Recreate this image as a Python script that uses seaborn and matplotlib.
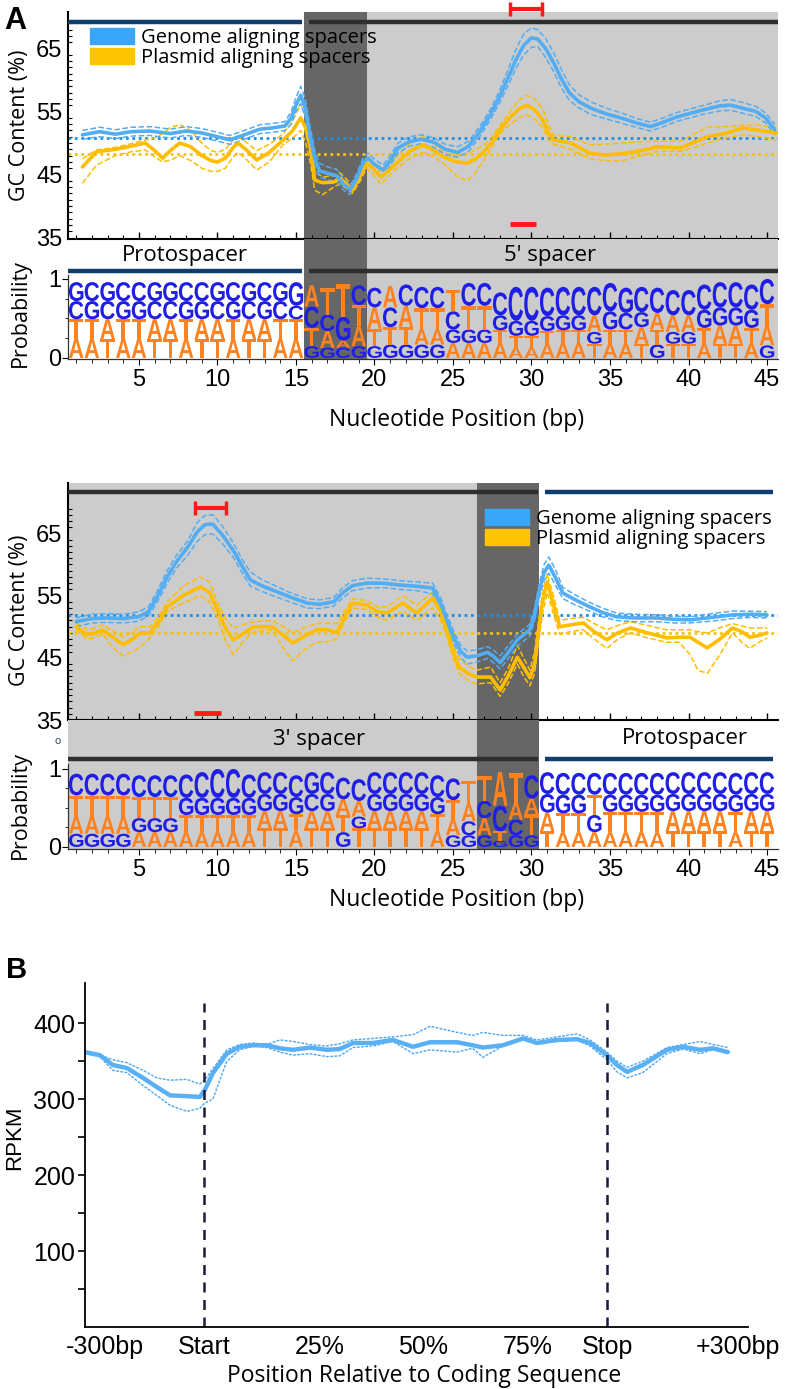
import matplotlib
matplotlib.use("Agg")
import matplotlib.pyplot as plt
import seaborn as sns
from matplotlib.textpath import TextPath
from matplotlib.font_manager import FontProperties
from matplotlib.patches import PathPatch, Patch
from matplotlib.transforms import Affine2D

# ---------------- data : panel A, 5' side ----------------
top_g_pos = [1.4, 2.5, 3.5, 4.5, 5.7, 7.0, 8.0, 9.0, 10.0, 10.8, 11.6, 12.7, 13.5, 14.3, 14.7, 15.0, 15.3,
             15.6, 15.9, 16.2, 16.5, 17.0, 17.6, 18.0, 18.45, 18.9, 19.3, 19.6, 20.0, 20.55, 21.0, 21.5,
             22.2, 23.0, 23.8, 24.5, 25.3, 26.0, 26.7, 27.4, 28.0, 28.5, 29.0, 29.5, 30.0, 30.4, 30.9,
             31.4, 31.9, 32.4, 33.0, 33.8, 34.8, 35.8, 36.8, 37.6, 38.4, 39.2, 40.1, 41.0, 42.0, 42.7,
             43.5, 44.3, 44.9, 45.5]
top_g_mid = [51.3, 51.8, 51.4, 51.8, 51.9, 51.5, 51.9, 51.6, 51.0, 50.5, 51.2, 52.2, 52.4, 52.7, 54.0, 56.0, 57.6,
             55.5, 51.0, 47.5, 45.6, 45.2, 44.8, 43.5, 42.6, 44.5, 47.0, 47.6, 46.6, 45.7, 47.2, 49.2,
             50.2, 50.6, 50.1, 49.0, 48.5, 49.5, 51.8, 54.6, 57.5, 60.3, 63.2, 65.5, 66.7, 66.5, 65.0,
             62.8, 60.2, 58.0, 56.6, 55.5, 54.6, 53.9, 53.1, 52.6, 53.3, 54.1, 54.7, 55.3, 55.9, 56.0,
             55.5, 55.0, 54.0, 52.1]
top_g_hi = [52.0, 52.5, 52.1, 52.5, 52.6, 52.2, 52.6, 52.3, 51.7, 51.2, 51.9, 52.9, 53.1, 53.4, 55.0, 57.2, 59.0,
            57.0, 52.5, 48.8, 46.8, 46.2, 45.8, 44.4, 43.3, 45.3, 47.8, 48.4, 47.4, 46.5, 48.0, 50.0,
            51.0, 51.3, 50.8, 49.8, 49.4, 50.3, 52.6, 55.4, 58.5, 61.6, 64.8, 67.3, 68.3, 68.0, 66.6,
            64.4, 61.7, 59.3, 57.7, 56.5, 55.5, 54.7, 53.8, 53.3, 54.0, 54.8, 55.4, 56.0, 56.7, 56.9,
            56.4, 55.8, 54.8, 53.0]
top_g_lo = [50.6, 51.0, 50.7, 51.1, 51.2, 50.8, 51.2, 50.9, 50.3, 49.8, 50.5, 51.5, 51.7, 52.0, 53.0, 55.0, 56.3,
            54.0, 49.6, 46.3, 44.6, 44.2, 43.8, 42.6, 41.8, 43.7, 46.2, 46.8, 45.8, 44.9, 46.4, 48.4,
            49.5, 49.9, 49.3, 48.2, 47.7, 48.7, 51.0, 53.8, 56.5, 59.1, 61.8, 64.0, 65.2, 65.3, 63.6,
            61.4, 58.8, 56.8, 55.6, 54.5, 53.8, 53.1, 52.4, 51.9, 52.6, 53.4, 54.0, 54.6, 55.1, 55.2,
            54.7, 54.2, 53.2, 51.3]

top_p_pos = [1.4, 2.3, 3.5, 4.5, 5.4, 6.0, 6.5, 7.0, 7.6, 8.3, 9.0, 9.6, 10.0, 10.5, 11.0, 11.3, 11.8, 12.5,
             13.3, 14.2, 14.8, 15.3, 15.6, 15.9, 16.2, 16.7, 17.4, 17.8, 18.2, 18.6, 19.1, 19.5, 19.9,
             20.4, 20.9, 21.4, 22.3, 23.1, 23.8, 24.4, 25.2, 25.9, 26.4, 26.9, 27.5, 28.0, 28.6, 29.2,
             29.7, 30.2, 30.7, 31.1, 31.4, 32.5, 33.7, 34.7, 35.8, 37.0, 38.0, 39.5, 40.4, 41.2, 42.3,
             43.5, 44.5, 45.6]
top_p_mid = [46.2, 48.6, 49.0, 49.5, 50.0, 48.8, 47.6, 48.8, 50.0, 49.4, 48.0, 47.2, 47.0, 47.6, 49.3, 50.0, 49.0, 47.3,
             48.5, 50.5, 52.0, 54.0, 52.5, 49.4, 44.1, 43.7, 43.8, 44.4, 43.5, 42.5, 44.8, 46.8, 46.0,
             44.6, 45.6, 46.8, 48.8, 49.7, 48.8, 47.8, 47.0, 46.8, 47.4, 48.4, 50.2, 52.1, 54.0, 55.4,
             56.0, 55.3, 53.7, 51.5, 50.5, 50.0, 48.4, 48.1, 48.3, 48.8, 49.4, 49.2, 50.2, 51.0, 51.5,
             52.4, 52.0, 51.6]
top_p_hi = [47.5, 48.9, 49.3, 49.9, 50.5, 50.8, 51.5, 52.5, 52.9, 52.0, 50.0, 48.8, 48.5, 49.0, 50.5, 51.0, 50.2, 48.8,
            49.8, 51.5, 53.5, 56.2, 54.5, 51.0, 45.5, 44.6, 44.8, 45.3, 44.3, 43.3, 45.6, 47.7, 46.9,
            45.5, 46.5, 47.8, 50.0, 51.0, 49.9, 48.5, 48.0, 48.2, 48.9, 49.5, 51.0, 52.8, 54.9, 56.8,
            57.6, 57.0, 55.5, 52.8, 51.2, 51.0, 49.7, 49.8, 50.0, 50.2, 50.3, 50.3, 51.5, 52.5, 52.6,
            52.8, 52.8, 52.5]
top_p_lo = [43.6, 46.5, 48.0, 48.6, 48.9, 47.8, 47.0, 47.3, 48.0, 47.2, 46.0, 45.5, 45.5, 46.0, 47.8, 48.5, 47.5, 45.7,
            47.0, 49.8, 50.8, 52.0, 50.2, 47.0, 42.5, 41.8, 43.0, 43.5, 42.8, 42.0, 44.0, 46.0, 45.0,
            43.5, 44.7, 46.0, 47.6, 48.5, 47.8, 46.8, 44.8, 44.0, 45.2, 47.0, 49.5, 51.5, 52.9, 54.0,
            54.5, 53.8, 52.5, 50.5, 49.8, 49.0, 47.5, 47.2, 47.2, 48.0, 48.7, 48.7, 49.3, 50.0, 50.8,
            51.3, 51.0, 50.5]
top_mean = [50.85, 48.2]   # genome, plasmid

# logo rows, bottom -> top
top_row1 = "AATAATTATTATTAA" + "GGCGGGGGGAAAAAAAAATAATGTTATTAG"
top_row2 = "TTATTAATAATAATT" + "TAAATTTAAGGGTTTTTTGTTATGGTAATA"
top_row3 = "CGCGGCCGGCGCGCC" + "CCGTACATTCTTGGGGGGAGCGAAAGGGGT"
top_row4 = "GCGCCGGCCGCGCGG" + "ATTCCACCCTCCCCCCCCCCGCCCCCCCCC"
top_h1 = [.24, .24, .24, .24, .24, .24, .24, .24, .24, .24, .24, .24, .24, .24, .24,
          .15, .13, .13, .15, .15, .17, .17, .17, .17, .19, .19, .19, .19, .13, .13,
          .18, .19, .19, .18, .18, .18, .18, .17, .18, .18, .18, .18, .18, .18, .16]
top_h2 = [.25, .25, .25, .25, .25, .25, .25, .25, .25, .25, .25, .25, .25, .25, .25,
          .23, .21, .09, .25, .22, .22, .22, .19, .19, .17, .17, .17, .16, .15, .15,
          .16, .16, .16, .15, .18, .18, .21, .19, .15, .15, .20, .23, .23, .20, .25]
top_h3 = [.23, .23, .23, .23, .23, .23, .23, .23, .23, .23, .23, .23, .23, .23, .17,
          .27, .21, .30, .27, .27, .25, .27, .27, .27, .23, .30, .30, .19, .19, .19,
          .19, .19, .19, .21, .23, .21, .19, .21, .21, .21, .23, .23, .23, .23, .27]
top_h4 = [.24, .24, .24, .24, .24, .24, .24, .24, .24, .24, .24, .24, .24, .24, .30,
          .27, .34, .42, .25, .25, .27, .27, .27, .27, .27, .29, .29, .29, .43, .43,
          .36, .36, .36, .36, .36, .32, .32, .32, .32, .32, .32, .32, .32, .32, .32]

# ---------------- data : panel A, 3' side ----------------
bot_g_pos = [1.0, 2.0, 3.0, 4.0, 5.0, 5.6, 6.2, 6.8, 7.4, 8.1, 8.7, 9.2, 9.7, 10.3, 11.0, 11.6, 12.1, 12.8,
             13.5, 14.6, 15.7, 16.5, 17.4, 18.0, 18.6, 19.5, 20.5, 21.6, 22.7, 23.7, 24.2, 24.6, 25.1,
             25.5, 25.9, 26.5, 27.2, 27.6, 28.0, 28.5, 29.1, 29.9, 30.2, 30.5, 30.8, 31.1, 31.5, 32.0,
             32.8, 33.7, 34.5, 35.4, 36.6, 38.0, 39.0, 40.1, 41.5, 42.8, 44.0, 45.0]
bot_g_mid = [50.8, 51.3, 51.4, 51.3, 51.6, 52.4, 55.0, 58.0, 60.5, 62.8, 65.2, 66.4, 66.5, 64.8, 62.3, 59.6, 57.5, 56.6,
             55.9, 54.8, 53.8, 53.6, 54.0, 55.5, 56.6, 57.0, 57.0, 56.7, 56.5, 56.2, 53.8, 51.1, 48.0,
             46.0, 45.1, 45.3, 45.9, 45.2, 44.2, 45.8, 47.9, 49.5, 52.0, 55.8, 58.7, 59.9, 58.0, 55.4,
             54.3, 53.2, 52.3, 51.6, 51.4, 51.4, 51.2, 51.1, 51.5, 51.9, 52.0, 51.9]
bot_g_hi = [51.4, 52.0, 52.1, 52.0, 52.4, 53.2, 55.9, 59.0, 61.5, 63.8, 66.7, 67.9, 68.0, 66.2, 63.5, 60.7, 58.8, 57.6,
            56.8, 55.5, 54.5, 54.3, 54.7, 56.3, 57.4, 57.8, 57.7, 57.4, 57.2, 57.0, 54.7, 52.0, 49.0,
            47.0, 46.1, 46.3, 46.8, 46.2, 45.3, 46.9, 48.8, 50.4, 53.0, 57.0, 60.0, 61.2, 59.3, 56.3,
            55.1, 53.9, 53.0, 52.2, 52.0, 51.9, 51.7, 51.6, 52.1, 52.5, 52.5, 52.4]
bot_g_lo = [50.0, 50.6, 50.7, 50.6, 50.9, 51.7, 54.1, 57.0, 59.4, 61.5, 63.7, 64.8, 64.9, 63.4, 61.2, 58.5, 56.5, 55.7,
            55.0, 54.0, 53.0, 52.9, 53.3, 54.7, 55.8, 56.2, 56.3, 56.0, 55.8, 55.3, 52.8, 50.2, 47.0,
            45.0, 44.0, 44.3, 44.9, 44.2, 43.2, 44.8, 46.9, 48.5, 51.0, 54.6, 57.4, 58.6, 56.8, 54.5,
            53.5, 52.5, 51.6, 51.0, 50.8, 50.8, 50.6, 50.6, 50.9, 51.3, 51.5, 51.4]

bot_p_pos = [1.0, 1.7, 2.2, 2.7, 3.4, 4.0, 4.6, 5.1, 5.7, 6.3, 6.8, 7.8, 8.9, 9.5, 10.0, 10.5, 11.0, 11.6,
             12.3, 13.5, 14.2, 14.8, 15.5, 16.3, 17.0, 17.6, 18.1, 18.6, 19.5, 20.2, 20.8, 21.8, 22.7,
             23.7, 24.2, 24.6, 25.0, 25.4, 26.0, 26.5, 27.4, 28.0, 28.5, 29.1, 29.5, 29.9, 30.2, 30.4,
             30.7, 31.0, 31.4, 31.8, 32.5, 33.3, 34.0, 34.8, 35.5, 36.3, 37.4, 38.6, 39.4, 40.1, 40.6,
             41.2, 42.0, 42.8, 43.4, 43.9, 44.5, 45.0]
bot_p_mid = [50.0, 48.7, 49.0, 49.5, 48.2, 47.1, 48.0, 49.0, 49.0, 51.0, 53.2, 55.0, 56.4, 55.5, 52.7, 49.8, 47.9, 48.8,
             50.0, 50.0, 48.6, 47.4, 48.4, 49.5, 49.5, 49.1, 51.5, 53.8, 53.5, 52.4, 52.2, 53.8, 52.2,
             54.6, 52.5, 49.5, 46.0, 43.5, 42.4, 41.9, 41.9, 39.8, 42.0, 45.1, 43.5, 41.8, 44.0, 48.3,
             54.0, 57.2, 53.5, 50.0, 50.3, 50.6, 49.2, 47.9, 49.0, 49.8, 49.0, 48.2, 48.3, 48.3, 47.5,
             46.6, 48.0, 49.8, 49.2, 48.3, 48.6, 49.0]
bot_p_hi = [50.6, 49.5, 49.8, 50.3, 49.2, 48.3, 49.2, 50.0, 50.0, 51.8, 54.0, 56.5, 58.0, 57.2, 54.0, 51.3, 49.8, 50.3,
            50.8, 51.0, 50.0, 49.0, 49.8, 50.5, 50.6, 50.5, 52.5, 54.5, 54.2, 53.2, 53.2, 55.0, 53.5,
            55.5, 53.3, 50.5, 47.0, 44.8, 43.6, 43.0, 43.5, 41.0, 43.2, 47.0, 45.0, 43.0, 46.0, 50.0,
            55.5, 58.5, 55.0, 51.0, 51.3, 51.5, 50.5, 49.5, 50.2, 50.8, 50.2, 49.5, 49.5, 49.5, 49.2,
            49.0, 49.8, 50.5, 50.1, 49.8, 49.8, 49.8]
bot_p_lo = [49.5, 48.0, 48.3, 48.8, 46.5, 45.3, 46.0, 46.8, 48.2, 50.2, 52.5, 53.8, 55.0, 54.0, 51.5, 47.8, 45.5, 47.5,
            49.2, 49.5, 46.5, 44.5, 46.2, 47.5, 47.6, 48.0, 50.8, 53.0, 52.8, 51.5, 51.0, 52.5, 51.0,
            53.0, 51.2, 48.5, 45.0, 42.5, 41.3, 40.8, 41.0, 38.8, 40.8, 44.0, 42.0, 40.5, 42.5, 46.5,
            52.0, 55.5, 52.0, 48.8, 49.2, 49.5, 48.0, 46.5, 48.0, 49.0, 48.2, 47.5, 47.5, 45.5, 43.0,
            42.5, 45.5, 49.0, 47.5, 46.5, 47.5, 48.2]
bot_mean = [51.9, 49.0]

bot_row1 = "GGGGAAAAAAAATTATTGTTTTTAGGGGGG" + "TAAAAAAATTTTATT"
bot_row2 = "AAAAGGGTTTTTAATAATGAAAATACATCT" + "ATTGTTTTAAAATAA"
bot_row3 = "TTTTTTTGGGGGGGGCGAAGGGGGTACCAA" + "GGGTGGGGGGGGGGG"
bot_row4 = "CCCCCCCCCCCCCCCGCCCCCCCCCTTATC" + "CCCCCCCCCCCCCCC"
bot_h1 = [.17, .17, .17, .17, .19, .19, .19, .19, .19, .19, .19, .19, .24, .24, .20,
          .24, .24, .19, .24, .24, .24, .24, .24, .20, .15, .15, .15, .08, .15, .15,
          .20, .19, .19, .19, .19, .19, .19, .19, .20, .20, .20, .20, .19, .20, .20]
bot_h2 = [.22, .22, .22, .22, .18, .18, .18, .22, .22, .22, .22, .22, .22, .22, .22,
          .22, .22, .22, .15, .22, .22, .22, .22, .22, .20, .18, .22, .12, .20, .27,
          .24, .24, .24, .22, .26, .26, .26, .26, .26, .26, .26, .26, .26, .26, .26]
bot_h3 = [.27, .27, .27, .27, .27, .27, .27, .22, .22, .22, .22, .22, .22, .22, .22,
          .22, .22, .20, .20, .22, .22, .22, .22, .22, .25, .22, .22, .33, .22, .20,
          .24, .24, .24, .26, .22, .22, .22, .22, .22, .22, .22, .22, .22, .22, .22]
bot_h4 = [.28, .28, .28, .28, .28, .28, .28, .30, .33, .37, .37, .30, .28, .28, .28,
          .28, .28, .28, .28, .28, .28, .28, .28, .28, .28, .30, .32, .43, .38, .30,
          .28, .28, .28, .28, .28, .28, .28, .28, .28, .28, .28, .28, .28, .28, .28]

# ---------------- data : panel B ----------------
b_x = [-29.5, -25.8, -22.6, -19.1, -15.1, -11.7, -8.4, -4.2, -1.0, 0.2, 2.2, 5.7, 8.9, 12.2, 15.6, 18.9,
       22.1, 26.3, 30.5, 33.7, 37.0, 41.9, 46.9, 51.9, 56.1, 62.8, 66.7, 69.2, 74.2, 79.2, 82.6, 87.6,
       92.6, 95.8, 100.0, 102.5, 105.0, 108.9, 114.9, 118.9, 123.1, 126.3, 130.0]
b_mid = [362, 358, 345, 341, 328, 316, 305, 304, 303, 312, 334, 360, 369, 371, 371, 367,
         365, 368, 365, 366, 374, 374, 378, 369, 375, 375, 371, 368, 371, 380, 374, 378,
         379, 374, 358, 345, 336, 345, 365, 369, 365, 367, 362]
b_hi = [364, 358, 352, 348, 338, 328, 325, 326, 320, 325, 340, 365, 372, 374, 372, 378,
        376, 372, 370, 373, 378, 380, 382, 385, 396, 388, 384, 388, 384, 384, 378, 382,
        386, 378, 362, 350, 342, 350, 368, 372, 376, 372, 368]
b_lo = [360, 356, 338, 335, 318, 305, 292, 284, 288, 295, 300, 350, 365, 370, 368, 362,
        358, 360, 356, 357, 368, 370, 376, 360, 365, 362, 367, 355, 370, 378, 374, 376,
        378, 370, 352, 336, 328, 335, 360, 366, 360, 365, 360]
b_marks = [0, 100]
b_tick_pos = [-24.6, 0, 28.8, 54.3, 80.4, 100.2, 132.5]
b_tick_lab = ["-300bp", "Start", "25%", "50%", "75%", "Stop", "+300bp"]

# ---------------- style ----------------
sns.set_theme(style="white")
plt.rcParams["font.family"] = ["Liberation Sans", "DejaVu Sans"]
plt.rcParams["text.color"] = "black"
plt.rcParams["xtick.color"] = "black"
plt.rcParams["ytick.color"] = "black"
LBL = ["Open Sans", "DejaVu Sans"]
BLUE, YEL = "#52adf5", "#ffbd00"
BLUE_D, YEL_D = "#1e8fe6", "#f2c30f"
LET_COL = {"A": "#ff821e", "T": "#ff821e", "C": "#1e1ee6", "G": "#1e1ee6"}
LETTER_FONT = FontProperties(family="Liberation Sans", weight="bold")

W, H = 793, 1389
fig = plt.figure(figsize=(W / 100, H / 100), dpi=100)


def px_axes(l, t, r, b):
    ax = fig.add_axes([l / W, 1 - b / H, (r - l) / W, (b - t) / H])
    ax.set_facecolor("none")
    return ax


def draw_letter(ax, ch, x, y0, h, w=0.92):
    tp = TextPath((0, 0), ch, size=1, prop=LETTER_FONT)
    bb = tp.get_extents()
    tr = Affine2D().translate(-bb.x0, -bb.y0).scale(w / bb.width, h / bb.height).translate(x - w / 2, y0)
    ax.add_patch(PathPatch(tr.transform_path(tp), fc=LET_COL[ch], lw=0, zorder=3))


def shade(ax, spans):
    for x0, x1, c in spans:
        ax.axvspan(x0, x1, color=c, lw=0, zorder=0)


def gc_panel(ax, gp, gm, gh, gl, pp, pm, ph, pl, means, ylim):
    for y, c in zip(means, [BLUE_D, YEL_D]):
        ax.axhline(y, color=c, lw=2, ls=(0, (1, 1.3)), zorder=2)
    for x, m, hi, lo, c in [(pp, pm, ph, pl, YEL), (gp, gm, gh, gl, BLUE)]:
        sns.lineplot(x=x, y=hi, ax=ax, color=c, lw=1.1, ls="--", zorder=3)
        sns.lineplot(x=x, y=lo, ax=ax, color=c, lw=1.1, ls="--", zorder=3)
        sns.lineplot(x=x, y=m, ax=ax, color=c, lw=2.6, zorder=4)
    ax.set_xlim(0.48, 45.7)
    ax.set_ylim(*ylim)
    ax.set_yticks([35, 45, 55, 65])
    ax.set_yticks(range(36, 70), minor=True)
    ax.set_xticks([5, 10, 15, 20, 25, 30, 35, 40, 45])
    ax.set_xticks(range(1, 46), minor=True)
    ax.tick_params(axis="y", which="major", direction="inout", length=6, width=1, labelsize=17, pad=1)
    ax.tick_params(axis="y", which="minor", direction="in", length=3, width=0.8, left=True)
    ax.tick_params(axis="x", which="major", direction="in", length=5, width=1, labelbottom=False, bottom=True)
    ax.tick_params(axis="x", which="minor", direction="in", length=3, width=0.8, bottom=True)
    for s in ["top", "right"]:
        ax.spines[s].set_visible(False)
    for s in ["left", "bottom"]:
        ax.spines[s].set_color("black")
        ax.spines[s].set_linewidth(1.5)
    ax.set_xlabel("")
    ax.set_ylabel("")


def logo_panel(ax, rows, heights):
    for i in range(45):
        y0 = 0
        for r, hs in zip(rows, heights):
            draw_letter(ax, r[i], i + 1, y0, hs[i])
            y0 += hs[i]
    ax.set_xlim(0.48, 45.7)
    ax.set_xticks([5, 10, 15, 20, 25, 30, 35, 40, 45])
    ax.set_xticks(range(1, 46), minor=True)
    ax.set_yticks([0, 1])
    ax.set_yticks([0.25, 0.5, 0.75], minor=True)
    ax.tick_params(axis="x", which="major", direction="out", length=4, width=0.8, labelsize=17, pad=3, bottom=True)
    ax.tick_params(axis="x", which="minor", direction="out", length=3, width=0.6, bottom=True)
    ax.tick_params(axis="y", which="major", direction="out", length=4, width=0.8, labelsize=17, pad=1, left=True)
    ax.tick_params(axis="y", which="minor", direction="out", length=2.5, width=0.6, left=True)
    for s in ["top", "right"]:
        ax.spines[s].set_visible(False)
    for s in ["left", "bottom"]:
        ax.spines[s].set_color("#333333")
        ax.spines[s].set_linewidth(0.9)


def legend(ax, anchor):
    hd = [Patch(color="#3aa6f7"), Patch(color="#ffc400")]
    ax.legend(hd, ["Genome aligning spacers", "Plasmid aligning spacers"], loc="upper left",
              bbox_to_anchor=anchor, frameon=False, handlelength=2.2, handleheight=0.85,
              handletextpad=0.35, labelspacing=0.0, borderpad=0, borderaxespad=0,
              prop=FontProperties(family=LBL, size=14.5))


DARK, LIGHT = "#666666", "#cccccc"
NAVY, BLK = "#0f3d6e", "#2e2e2e"

# ================= panel A : 5' =================
gc1 = px_axes(68, 12, 778, 239)
band1 = px_axes(68, 239, 778, 275)
logo1 = px_axes(68, 275, 778, 359)
spans1 = [(15.5, 19.5, DARK), (19.5, 45.7, LIGHT)]
for a in (gc1, band1, logo1):
    shade(a, spans1)
gc_panel(gc1, top_g_pos, top_g_mid, top_g_hi, top_g_lo, top_p_pos, top_p_mid, top_p_hi, top_p_lo,
         top_mean, (34.76, 70.8))
gc1.plot([0.48, 15.4], [69.2, 69.2], color=NAVY, lw=3.2, solid_capstyle="butt", zorder=5)
gc1.plot([15.8, 45.7], [69.2, 69.2], color=BLK, lw=3.2, solid_capstyle="butt", zorder=5)
gc1.errorbar(29.65, 71.3, xerr=1.05, color="#ff1a1a", elinewidth=3, capsize=5, capthick=2.5,
             clip_on=False, zorder=6)
gc1.plot([28.6, 30.3], [37.1, 37.1], color="#ff1a1a", lw=3.5, solid_capstyle="butt", zorder=6)
legend(gc1, (0.031, 0.93))

band1.set_xlim(0.48, 45.7)
band1.set_ylim(0, 1)
band1.set_axis_off()
band1.plot([0.48, 15.4], [0.11, 0.11], color=NAVY, lw=3.2, solid_capstyle="butt")
band1.plot([15.8, 45.7], [0.11, 0.11], color=BLK, lw=3.2, solid_capstyle="butt")
band1.text(7.9, 0.55, "Protospacer", ha="center", va="center", fontsize=16, family=LBL)
band1.text(31.2, 0.55, "5' spacer", ha="center", va="center", fontsize=16, family=LBL)

logo_panel(logo1, [top_row1, top_row2, top_row3, top_row4], [top_h1, top_h2, top_h3, top_h4])
logo1.set_ylim(-0.013, 1.05)

# ================= panel A : 3' =================
gc2 = px_axes(68, 483, 778, 720)
band2 = px_axes(68, 720, 778, 764)
logo2 = px_axes(68, 764, 778, 849)
spans2 = [(0.48, 26.5, LIGHT), (26.5, 30.5, DARK)]
for a in (gc2, band2, logo2):
    shade(a, spans2)
gc_panel(gc2, bot_g_pos, bot_g_mid, bot_g_hi, bot_g_lo, bot_p_pos, bot_p_mid, bot_p_hi, bot_p_lo,
         bot_mean, (35, 73.1))
gc2.plot([0.48, 30.4], [71.7, 71.7], color=BLK, lw=3.2, solid_capstyle="butt", zorder=5)
gc2.plot([30.85, 45.4], [71.7, 71.7], color=NAVY, lw=3.2, solid_capstyle="butt", zorder=5)
gc2.errorbar(9.55, 69.1, xerr=0.97, color="#ff1a1a", elinewidth=3, capsize=5, capthick=2.5, zorder=6)
gc2.plot([8.5, 10.2], [36.1, 36.1], color="#ff1a1a", lw=3.5, solid_capstyle="butt", zorder=6)
legend(gc2, (0.587, 0.89))

band2.set_xlim(0.48, 45.7)
band2.set_ylim(0, 1)
band2.set_axis_off()
band2.plot([0.48, 30.4], [0.11, 0.11], color=BLK, lw=3.2, solid_capstyle="butt")
band2.plot([30.85, 45.4], [0.11, 0.11], color=NAVY, lw=3.2, solid_capstyle="butt")
band2.text(16.5, 0.55, "3' spacer", ha="center", va="center", fontsize=16, family=LBL)
band2.text(39.8, 0.57, "Protospacer", ha="center", va="center", fontsize=16, family=LBL)

logo_panel(logo2, [bot_row1, bot_row2, bot_row3, bot_row4], [bot_h1, bot_h2, bot_h3, bot_h4])
logo2.set_ylim(-0.026, 1.064)

# axis labels panel A
for y in (125, 610):
    fig.text(20 / W, 1 - y / H, "GC Content (%)", rotation=90, ha="center", va="center", fontsize=15.5, family=LBL)
for y in (313, 805):
    fig.text(20 / W, 1 - y / H, "Probability", rotation=90, ha="center", va="center", fontsize=15.5, family=LBL)
for y in (420, 900):
    fig.text(457 / W, 1 - y / H, "Nucleotide Position (bp)", ha="center", va="center", fontsize=16.5, family=LBL)
fig.text(58 / W, 1 - 741 / H, "o", ha="center", va="center", fontsize=8, color="#2a4a5a")

# ================= panel B =================
axb = px_axes(85, 983, 748, 1327)
sns.lineplot(x=b_x, y=b_hi, ax=axb, color="#4aa6f2", lw=1.0, ls=(0, (2, 1)))
sns.lineplot(x=b_x, y=b_lo, ax=axb, color="#4aa6f2", lw=1.0, ls=(0, (2, 1)))
sns.lineplot(x=b_x, y=b_mid, ax=axb, color="#5ab0f5", lw=3.2)
axb.vlines(b_marks, 0, 427, colors="#1a1a3a", linestyles=(0, (4, 3)), lw=1.8)
axb.set_xlim(-29.5, 135)
axb.set_ylim(0, 453)
axb.set_yticks([100, 200, 300, 400])
axb.set_yticks([50, 150, 250, 350], minor=True)
axb.set_xticks(b_tick_pos, b_tick_lab)
axb.tick_params(axis="y", which="both", direction="out", length=5, width=1.2, left=True, labelsize=18, pad=2)
axb.tick_params(axis="x", length=0, labelsize=18, pad=6)
for s in ["top", "right"]:
    axb.spines[s].set_visible(False)
for s in ["left", "bottom"]:
    axb.spines[s].set_color("black")
    axb.spines[s].set_linewidth(1.3)
axb.set_xlabel("")
axb.set_ylabel("")
fig.text(15 / W, 1 - 1138 / H, "RPKM", rotation=90, ha="center", va="center", fontsize=16)
fig.text(424 / W, 1 - 1376 / H, "Position Relative to Coding Sequence", ha="center", va="center",
         fontsize=16.5, family=LBL)

# panel letters
fig.text(4 / W, 1 - 21 / H, "A", fontsize=22, weight="bold", va="center", ha="left")
fig.text(6 / W, 1 - 970 / H, "B", fontsize=21, weight="bold", va="center", ha="left")

fig.savefig("out.png", dpi=100)
